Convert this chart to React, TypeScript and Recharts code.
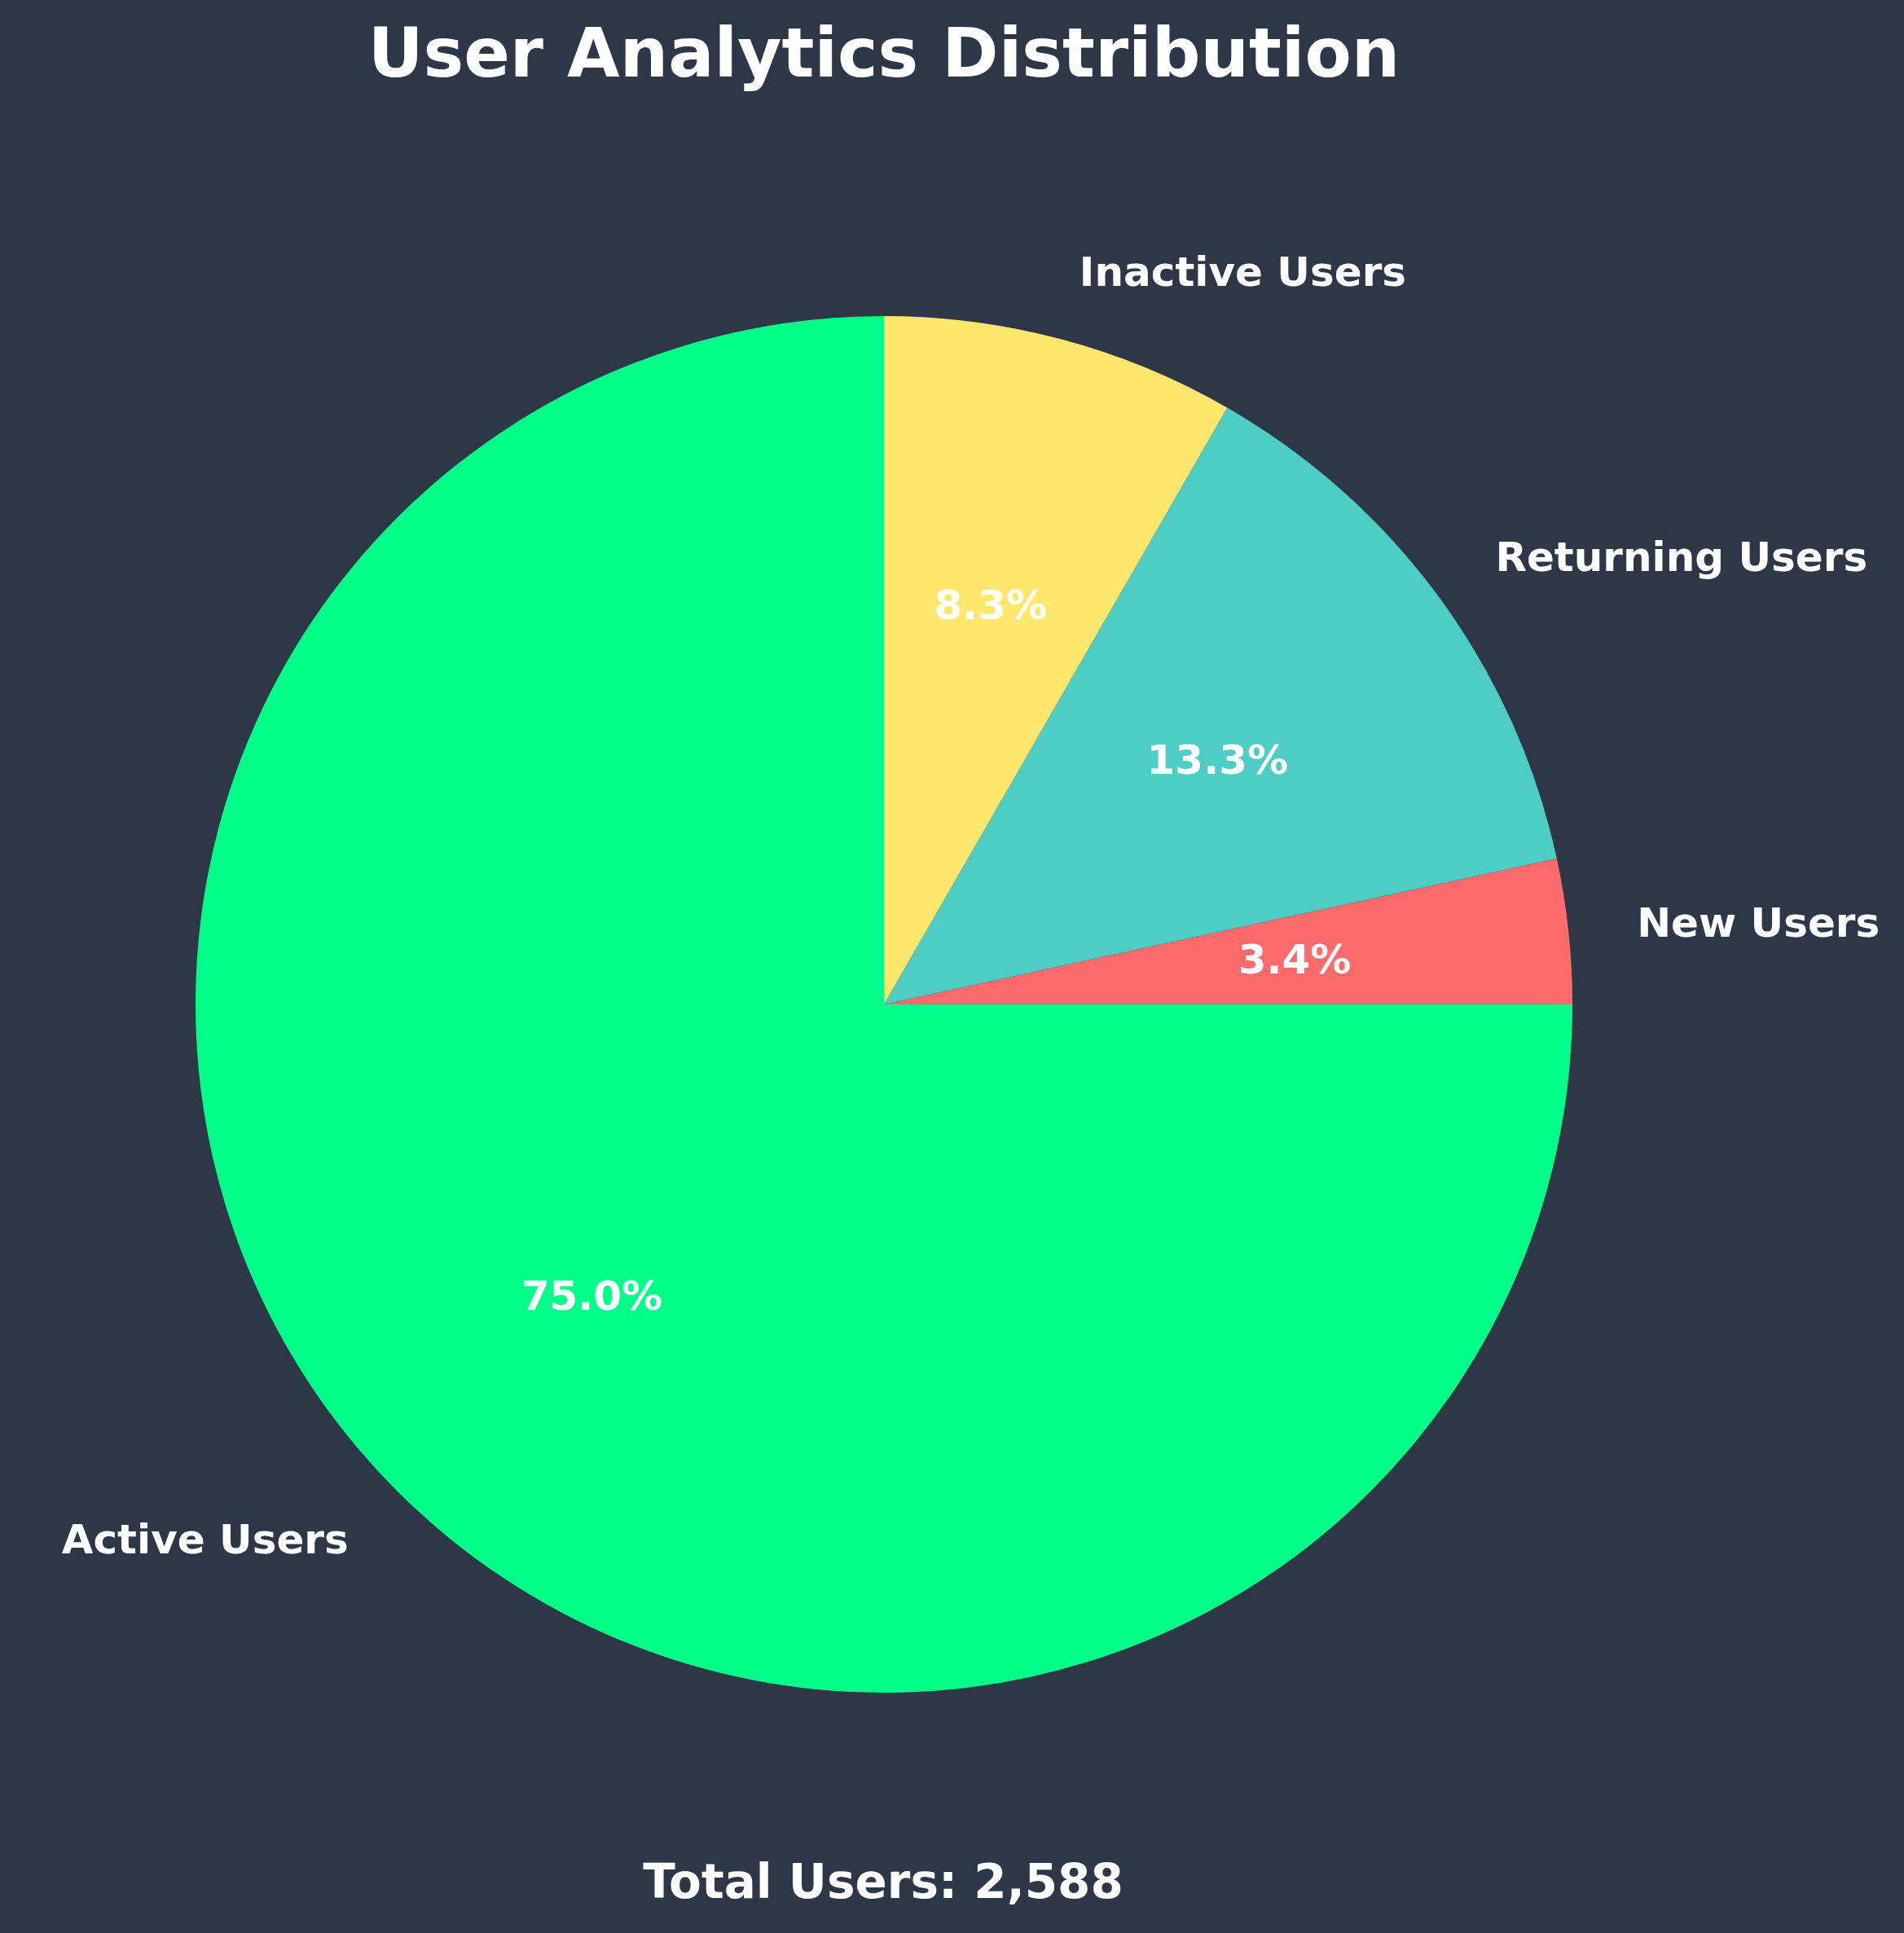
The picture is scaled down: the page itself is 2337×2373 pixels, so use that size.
import { PieChart, Pie, Cell } from 'recharts'

const categories = ['New Users', 'Returning Users', 'Inactive Users', 'Active Users']
const userCounts = [88, 344, 215, 1941]
const sliceColors = ['#FF6B6B', '#4ECDC4', '#FFE66D', '#00FF88']

const chartTitle = 'User Analytics Distribution'
const totalUsers = userCounts.reduce((a, b) => a + b, 0)

const W = 2337
const H = 2373
const BG = '#2d3748'
const FONT = '"DejaVu Sans", sans-serif'
const RAD = Math.PI / 180

const data = categories.map((name, i) => ({ name, value: userCounts[i] }))

function renderLabel(props: any) {
  const { cx, cy, midAngle, outerRadius, percent, name } = props
  const cos = Math.cos(-midAngle * RAD)
  const sin = Math.sin(-midAngle * RAD)
  const lr = outerRadius * 1.1
  const pr = outerRadius * 0.6
  const lx = cx + lr * cos
  const ly = cy + lr * sin
  const px = cx + pr * cos
  const py = cy + pr * sin
  return (
    <g>
      <text
        x={lx}
        y={ly}
        dy="0.33em"
        textAnchor={cos >= 0 ? 'start' : 'end'}
        fill="#ffffff"
        fontFamily={FONT}
        fontWeight="bold"
        fontSize={50}
      >
        {name}
      </text>
      <text
        x={px}
        y={py}
        dy="0.33em"
        textAnchor="middle"
        fill="#ffffff"
        fontFamily={FONT}
        fontWeight="bold"
        fontSize={50}
      >
        {(percent * 100).toFixed(1) + '%'}
      </text>
    </g>
  )
}

export default function App() {
  return (
    <div style={{ position: 'absolute', left: 0, top: 0, width: W, height: H, background: BG }}>
      <PieChart width={W} height={H} margin={{ top: 0, right: 0, bottom: 0, left: 0 }}>
        <Pie
          data={data}
          dataKey="value"
          nameKey="name"
          cx={1085}
          cy={1233}
          outerRadius={845}
          startAngle={0}
          endAngle={360}
          stroke="none"
          labelLine={false}
          label={renderLabel}
          isAnimationActive={false}
        >
          {data.map((d, i) => (
            <Cell key={d.name} fill={sliceColors[i]} />
          ))}
        </Pie>
      </PieChart>
      <svg width={W} height={H} style={{ position: 'absolute', left: 0, top: 0, pointerEvents: 'none' }}>
        <text x={1085} y={94} textAnchor="middle" fill="#ffffff" fontFamily={FONT} fontWeight="bold" fontSize={83.5}>
          {chartTitle}
        </text>
        <text x={1084} y={2330} textAnchor="middle" fill="#ffffff" fontFamily={FONT} fontWeight="bold" fontSize={58}>
          {'Total Users: ' + totalUsers.toLocaleString('en-US')}
        </text>
      </svg>
    </div>
  )
}
